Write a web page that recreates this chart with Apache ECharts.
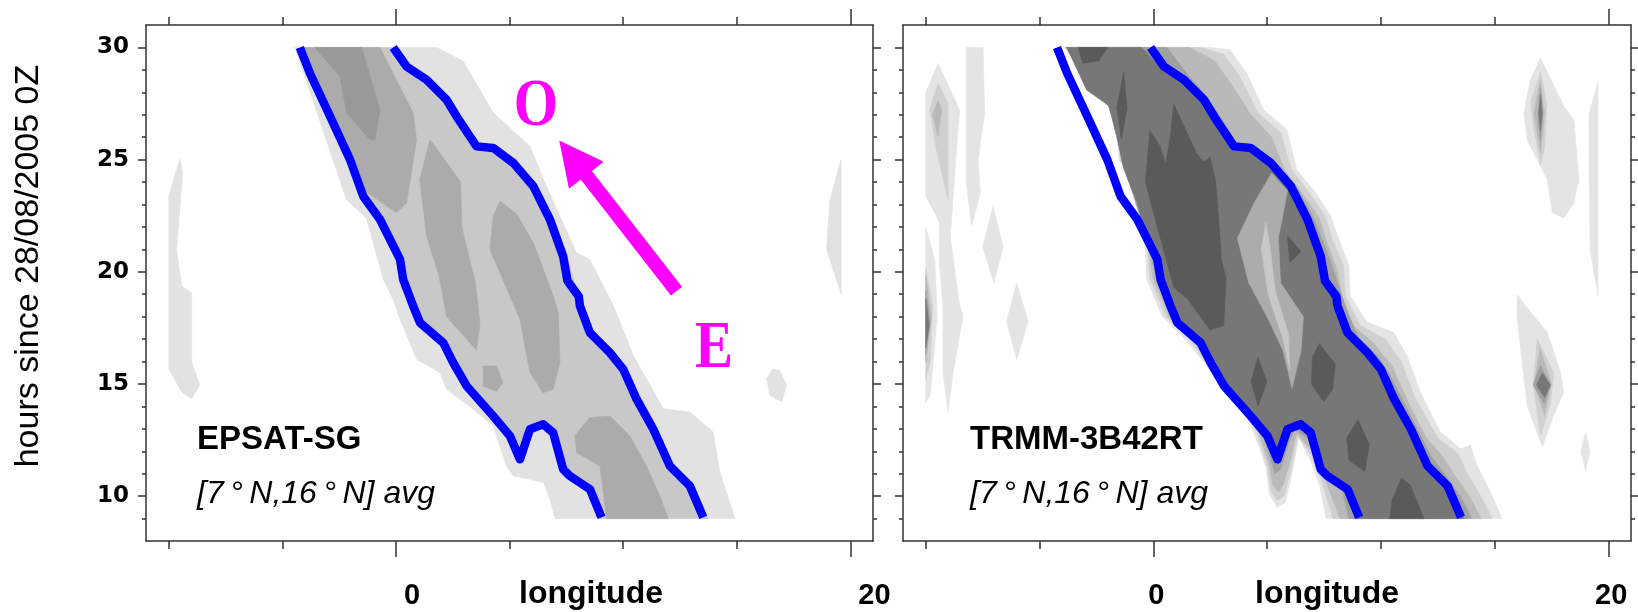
<!DOCTYPE html>
<html>
<head>
<meta charset="utf-8">
<title>Hovmoller EPSAT-SG / TRMM-3B42RT</title>
<script src="https://cdn.jsdelivr.net/npm/echarts@6/dist/echarts.min.js"></script>
<style>
  html, body { margin: 0; padding: 0; background: #ffffff; }
  #chart { width: 1638px; height: 612px; }
</style>
</head>
<body>
<div id="chart"></div>
<script>
// axes
const lonMin = -11, lonMax = 21;
const hourMin = 8, hourMax = 31;
const lonTicks = [-10, -5, 0, 5, 10, 15, 20];
const lonMajor = [0, 20];
const lonLabels = [0, 20];
const hourTicks = [9, 10, 11, 12, 13, 14, 15, 16, 17, 18, 19, 20, 21, 22, 23, 24, 25, 26, 27, 28, 29, 30];
const hourLabels = [10, 15, 20, 25, 30];

// blue contours [lon, hour] (same on both panels)
const blueWest = [[-4.23, 30], [-3.79, 28.86], [-2.90, 26.93], [-2.02, 25.0], [-1.44, 23.37], [-0.70, 22.33], [0.18, 20.55], [0.32, 19.66], [0.76, 18.47], [1.06, 17.73], [2.08, 16.84], [2.52, 15.95], [3.11, 14.91], [4.28, 13.57], [5.02, 12.68], [5.46, 11.64], [5.90, 12.98], [6.48, 13.20], [6.92, 12.83], [7.36, 11.20], [7.66, 10.90], [8.54, 10.31], [9.05, 9.05]];
const blueEast = [[-0.12, 30], [0.47, 29.15], [1.35, 28.56], [2.23, 27.67], [2.67, 26.93], [3.55, 25.59], [4.28, 25.52], [5.17, 24.85], [6.05, 23.81], [6.78, 22.33], [7.36, 20.69], [7.55, 19.6], [8.05, 18.9], [8.10, 18.47], [8.54, 17.28], [9.42, 16.39], [10.01, 15.65], [10.60, 14.31], [11.33, 12.98], [12.06, 11.34], [12.94, 10.45], [13.53, 9.05]];

// EPSAT-SG shaded levels (light -> dark)
const epsatL1 = [
  [[-4.45, 30], [1.8, 30], [2.96, 29.4], [4.28, 27.1], [5.9, 25.6], [6.63, 23.8], [7.95, 20.85], [8.54, 20.55], [9.57, 18.5], [10.45, 16.27], [11.77, 13.9], [12.94, 13.75], [13.97, 12.86], [14.26, 11.08], [14.92, 9.0], [7.0, 9.0], [6.78, 9.86], [6.5, 10.6], [5.9, 10.75], [5.17, 10.9], [4.87, 11.34], [4.28, 13.13], [3.4, 13.87], [2.23, 14.76], [1.94, 15.5], [0.91, 16.1], [0.18, 17.88], [-0.12, 18.77], [-0.56, 19.66], [-1.3, 22.4], [-2.17, 23.2]],
  [[-9.51, 25.07], [-9.39, 24.4], [-9.65, 20.99], [-9.43, 19.36], [-8.99, 19.06], [-8.99, 15.97], [-8.63, 14.94], [-8.99, 14.35], [-9.43, 14.64], [-10.0, 15.68], [-10.0, 18.77], [-10.0, 23.37]],
  [[19.6, 25.0], [19.6, 19.0], [18.95, 21.0], [19.1, 23.2]],
  [[16.6, 15.68], [16.9, 15.6], [17.2, 14.94], [16.98, 14.2], [16.46, 14.49], [16.32, 15.24]]
];
const epsatL2 = [
  [[-4.1, 30], [0.1, 30], [0.6, 29.15], [1.45, 28.5], [2.35, 27.6], [2.8, 26.9], [3.65, 25.55], [4.35, 25.45], [5.3, 24.8], [6.2, 23.8], [6.95, 22.3], [7.55, 20.7], [7.85, 19.5], [8.25, 18.5], [8.7, 17.3], [9.6, 16.4], [10.2, 15.6], [10.8, 14.3], [11.5, 13.0], [12.25, 11.3], [13.1, 10.4], [13.75, 9.0], [9.0, 9.0], [8.54, 10.31], [7.66, 10.9], [7.36, 11.2], [6.92, 12.83], [6.48, 13.2], [5.9, 12.98], [5.46, 11.64], [5.02, 12.68], [4.28, 13.57], [3.11, 14.91], [2.52, 15.95], [2.08, 16.84], [1.06, 17.73], [0.76, 18.47], [0.32, 19.66], [0.18, 20.55], [-0.7, 22.33], [-1.44, 23.37], [-2.02, 25.0], [-2.9, 26.93], [-3.79, 28.86]]
];
const epsatL3 = [
  [[-4.1, 30], [-0.7, 30], [0.76, 27.08], [0.91, 25.89], [0.47, 23.07], [0.03, 22.63], [-1.44, 23.66], [-2.9, 26.93], [-3.79, 28.86]],
  [[1.5, 25.9], [2.85, 24.0], [2.9, 22.0], [3.5, 19.5], [3.7, 17.7], [3.55, 16.5], [2.23, 18.0], [1.9, 19.8], [1.35, 21.6], [1.05, 24.1]],
  [[3.84, 15.8], [4.43, 15.8], [4.72, 15.06], [4.43, 14.68], [3.84, 14.9]],
  [[4.58, 23.14], [5.3, 22.6], [6.05, 21.29], [6.9, 19.0], [7.15, 18.17], [7.22, 15.95], [6.92, 14.76], [6.48, 14.61], [5.9, 15.5], [5.46, 17.88], [4.9, 19.2], [4.14, 20.99], [4.28, 22.48]],
  [[8.1, 12.98], [8.54, 13.5], [9.42, 13.57], [10.3, 12.68], [11.03, 11.34], [11.62, 10.0], [11.99, 9.0], [9.27, 9.0], [8.98, 11.34], [7.95, 11.94], [7.88, 12.68]]
];
const epsatL4 = [
  [[-3.57, 30], [-1.51, 30], [-0.7, 27.23], [-0.92, 25.89], [-1.14, 25.89], [-2.17, 27.08], [-2.46, 28.71]]
];

// TRMM-3B42RT shaded levels (light -> dark)
const trmmL1 = [
  [[-3.9, 30], [-3.25, 29], [-2.6, 28.2], [-1.7, 27.1], [-1.5, 25.0], [-1.1, 24.3], [-0.8, 23.1], [-0.5, 22.0], [-0.35, 21.0], [-0.3, 19.7], [0.4, 18.0], [1.4, 17.0], [2.2, 16.0], [2.6, 15.5], [3.3, 14.5], [4.2, 13.4], [4.65, 12.2], [4.95, 11.3], [5.1, 10.1], [5.45, 9.5], [5.8, 9.7], [6.1, 11.0], [6.4, 12.6], [6.9, 11.6], [7.3, 10.5], [7.6, 9.0], [15.33, 9.0], [14.82, 10.19], [14.23, 11.38], [13.94, 12.27], [13.5, 12.12], [12.62, 12.86], [11.74, 14.64], [11.15, 16.27], [10.56, 17.31], [9.39, 17.76], [8.66, 18.91], [8.6, 20.3], [8.1, 21.6], [7.8, 22.5], [7.04, 23.66], [6.31, 24.55], [5.87, 26.34], [4.84, 27.23], [4.11, 28.86], [3.38, 29.9], [2.5, 30]],
  [[-9.46, 29.3], [-8.51, 27.2], [-8.65, 25.44], [-8.95, 21.14], [-9.53, 22.48], [-10.0, 23.37], [-10.0, 27.97]],
  [[-9.39, 22.48], [-8.95, 21.74], [-8.51, 18.5], [-8.36, 18.05], [-8.8, 15.5], [-9.02, 13.75], [-9.24, 15.53], [-9.24, 18.5], [-9.39, 20.25]],
  [[-10.0, 22.0], [-9.6, 20.5], [-9.5, 18.0], [-9.8, 14.5], [-10.0, 14.2]],
  [[-8.21, 30], [-7.48, 30], [-7.41, 27.08], [-7.7, 25.0], [-7.6, 23.5], [-7.99, 22.03], [-8.21, 23.96]],
  [[-7.04, 22.9], [-6.6, 21.1], [-7.0, 19.5], [-7.5, 21.1]],
  [[-6.0, 19.5], [-5.5, 17.8], [-6.0, 16.1], [-6.45, 17.8]],
  [[17.02, 29.53], [18.05, 27.37], [18.49, 26.78], [18.71, 24.11], [18.49, 23.07], [18.05, 22.4], [17.54, 22.63], [17.32, 24.11], [16.43, 25.89], [16.29, 27.08], [16.58, 28.56]],
  [[19.55, 28.5], [19.55, 18.9], [19.2, 21.0], [19.15, 27.0]],
  [[16.0, 19.0], [16.35, 18.5], [17.32, 17.31], [17.9, 15.53], [18.05, 14.64], [17.6, 13.6], [17.1, 12.19], [16.43, 14.05], [16.0, 17.91]],
  [[19.0, 12.85], [19.2, 12.0], [19.0, 11.1], [18.8, 12.0]]
];
const trmmL2 = [
  [[-3.85, 30], [-3.15, 29], [-2.45, 28.0], [-1.65, 27.0], [-1.45, 25.0], [-1.05, 24.2], [-0.75, 23.0], [-0.45, 22.0], [-0.25, 21.0], [-0.15, 19.7], [0.55, 18.0], [1.6, 17.0], [2.3, 16.0], [2.7, 15.5], [3.45, 14.5], [4.35, 13.4], [4.75, 12.2], [5.02, 11.3], [5.18, 10.2], [5.45, 9.8], [5.75, 10.0], [6.05, 11.2], [6.35, 12.7], [6.95, 11.8], [7.4, 10.7], [7.9, 9.0], [14.9, 9.0], [14.4, 10], [13.8, 11], [13.4, 11.9], [12.5, 12.6], [11.5, 14.4], [10.9, 16.0], [10.2, 17.0], [9.1, 17.6], [8.45, 18.9], [8.35, 20.3], [7.85, 21.5], [7.55, 22.5], [6.8, 23.6], [6.05, 24.6], [5.6, 26.2], [4.6, 27.1], [3.8, 28.7], [3.1, 29.7], [2.1, 30]],
  [[-9.46, 28.41], [-9.02, 27.52], [-9.02, 23.22], [-9.53, 25.44], [-9.83, 27.23]],
  [[17.02, 28.9], [17.3, 27.5], [17.2, 25.5], [17.02, 24.8], [16.7, 26.5], [16.6, 27.6]],
  [[16.88, 17.0], [17.6, 15.5], [17.46, 14.1], [17.02, 12.7], [16.7, 15.0]],
  [[-10.0, 20.2], [-9.7, 18.5], [-9.8, 16.0], [-10.0, 15.2]]
];
const trmmL3 = [
  [[-3.82, 30], [-3.05, 28.8], [-2.3, 27.8], [-1.62, 26.9], [-1.4, 25.0], [-1.0, 24.0], [-0.7, 22.9], [-0.4, 21.9], [-0.18, 20.9], [0.0, 19.7], [0.7, 18.0], [1.8, 16.9], [2.45, 16.0], [2.8, 15.5], [3.6, 14.5], [4.5, 13.3], [4.85, 12.2], [5.1, 11.4], [5.25, 10.5], [5.5, 10.2], [5.7, 10.5], [6.0, 11.5], [6.3, 12.8], [7.0, 12.0], [7.5, 10.9], [8.2, 9.0], [14.4, 9.0], [13.9, 10], [13.2, 11], [12.7, 11.8], [12.0, 12.6], [11.2, 14.2], [10.5, 15.8], [9.7, 16.8], [8.8, 17.6], [8.3, 18.9], [8.05, 20.2], [7.6, 21.4], [7.3, 22.4], [6.55, 23.5], [5.8, 24.5], [5.2, 26.0], [4.3, 27.0], [3.4, 28.4], [2.7, 29.4], [1.6, 30]],
  [[-9.46, 27.67], [-9.3, 27.2], [-9.46, 26.04], [-9.7, 27.0]],
  [[17.02, 28.56], [17.2, 27.0], [17.02, 25.3], [16.73, 27.08]],
  [[17.0, 16.6], [17.5, 15.0], [17.2, 13.6], [16.75, 15.0]],
  [[-10.0, 19.8], [-9.75, 18.0], [-10.0, 16.0]]
];
const trmmL4 = [
  [[-3.8, 30], [-2.95, 28.4], [-2.0, 27.5], [-1.62, 26.3], [-1.35, 24.8], [-0.9, 23.5], [-0.4, 22.0], [-0.12, 20.9], [0.15, 19.7], [0.8, 18.0], [1.95, 16.8], [2.6, 15.7], [3.0, 15.0], [4.0, 13.9], [4.7, 13.0], [5.0, 12.2], [5.2, 11.5], [5.35, 11.0], [5.6, 11.2], [5.9, 12.2], [6.2, 13.0], [7.0, 12.4], [7.5, 11.0], [8.3, 10.3], [8.6, 9.0], [14.0, 9.0], [13.5, 10], [12.8, 11], [12.2, 11.8], [11.7, 12.8], [11.0, 14.2], [10.4, 15.4], [9.9, 16.2], [9.0, 17.1], [8.5, 18.3], [8.2, 19.2], [7.75, 20.6], [7.1, 22.3], [6.3, 23.8], [5.45, 24.8], [4.5, 25.6], [3.7, 25.7], [2.9, 27.0], [2.2, 28.0], [1.5, 28.8], [0.6, 30]],
  [[17.02, 28.2], [17.12, 27.0], [17.02, 25.8], [16.9, 27.0]],
  [[17.02, 15.83], [17.46, 14.95], [17.2, 14.1], [16.7, 14.95]],
  [[-10.0, 19.2], [-9.8, 17.8], [-10.0, 16.3]]
];
const trmmL5 = [
  [[-3.8, 30], [-2.93, 28.1], [-1.95, 27.4], [-1.58, 25.9], [-1.28, 24.55], [-0.7, 23.07], [-0.25, 21.3], [0.3, 19.7], [0.9, 18.0], [2.05, 16.75], [2.6, 15.8], [3.15, 14.8], [4.3, 13.5], [5.0, 12.6], [5.35, 11.8], [5.6, 12.2], [5.95, 13.0], [6.5, 13.3], [6.95, 12.8], [7.4, 11.2], [7.7, 10.85], [8.55, 10.3], [8.95, 9.0], [13.65, 9.0], [13.05, 10.45], [12.15, 11.35], [11.45, 12.98], [10.7, 14.3], [10.1, 15.65], [9.5, 16.4], [8.65, 17.3], [8.2, 18.5], [7.65, 19.6], [7.45, 20.7], [6.9, 22.3], [6.15, 23.8], [5.25, 24.85], [4.3, 25.45], [3.55, 25.5], [2.7, 26.9], [2.2, 27.6], [1.3, 28.5], [0.4, 29.0], [-0.5, 30]],
  [[17.02, 27.9], [17.1, 27.1], [17.02, 26.3], [16.95, 27.1]],
  [[17.1, 15.5], [17.46, 14.95], [17.2, 14.4], [16.85, 14.95]],
  [[-10.0, 18.8], [-9.85, 17.6], [-10.0, 16.6]]
];
const trmmStreak = [
  [[5.2, 24.4], [5.9, 23.6], [5.5, 21.5], [5.6, 19.5], [6.6, 18.0], [6.5, 16.5], [6.1, 14.8], [5.7, 16.5], [5.0, 18.0], [4.2, 19.5], [3.7, 21.5], [4.4, 23.0]]
];
const trmmStreakCore = [
  [[4.95, 22.2], [5.15, 21.0], [5.35, 19.2], [5.95, 17.2], [6.0, 15.6], [5.7, 17.0], [5.05, 19.0], [4.75, 21.0]]
];
const trmmL6 = [
  [[-3.3, 30], [-2.0, 30], [-2.4, 29.4], [-3.1, 29.3]],
  [[-1.3, 28.9], [-1.15, 27.3], [-1.4, 25.9], [-1.6, 27.3]],
  [[0.9, 27.5], [1.3, 26.6], [1.9, 25.3], [2.2, 24.9], [2.5, 25.1], [2.75, 24.0], [2.9, 22.0], [3.0, 20.5], [3.2, 19.7], [3.1, 17.6], [2.5, 17.4], [1.5, 18.8], [0.9, 19.3], [0.5, 20.8], [0.1, 22.3], [-0.35, 24.0], [-0.15, 26.3], [0.3, 25.6], [0.55, 24.8], [0.75, 26.0]],
  [[5.9, 21.6], [6.5, 20.9], [6.0, 20.4]],
  [[7.3, 16.8], [8.0, 15.9], [7.9, 14.8], [7.5, 14.2], [6.95, 15.0], [7.0, 16.2]],
  [[4.6, 16.2], [5.0, 15.1], [4.6, 14.0], [4.3, 15.1]],
  [[9.0, 13.4], [9.5, 12.3], [9.3, 11.1], [8.6, 11.6], [8.5, 12.6]],
  [[10.9, 10.8], [11.3, 10.5], [11.9, 9.0], [10.4, 9.0], [10.5, 9.8]]
];

// propagation arrow, tail -> tip, [lon, hour]
const arrowEnds = [[12.35, 19.14], [7.19, 25.85]];

const axisColor = '#333333';
const tickStyle = { color: axisColor, width: 1.5 };

function xAxesFor(gi, labelAlign, labelPad) {
  const base = { gridIndex: gi, type: 'value', min: lonMin, max: lonMax, splitLine: { show: false } };
  return [
    Object.assign({}, base, {
      position: 'bottom',
      axisLine: { show: true, onZero: false, lineStyle: tickStyle },
      axisTick: { show: true, length: 8, customValues: lonTicks, lineStyle: tickStyle },
      axisLabel: {
        show: true, customValues: lonLabels, margin: 40, align: labelAlign, padding: [0, 0, 0, labelPad],
        fontFamily: 'Liberation Sans', fontWeight: 'bold', fontSize: 29, lineHeight: 29, color: '#000'
      }
    }),
    Object.assign({}, base, {
      position: 'bottom', axisLine: { show: false, onZero: false },
      axisTick: { show: true, length: 16, customValues: lonMajor, lineStyle: tickStyle },
      axisLabel: { show: false }
    }),
    Object.assign({}, base, {
      position: 'top',
      axisLine: { show: true, onZero: false, lineStyle: tickStyle },
      axisTick: { show: true, length: 8, customValues: lonTicks, lineStyle: tickStyle },
      axisLabel: { show: false }
    }),
    Object.assign({}, base, {
      position: 'top', axisLine: { show: false, onZero: false },
      axisTick: { show: true, length: 16, customValues: lonMajor, lineStyle: tickStyle },
      axisLabel: { show: false }
    })
  ];
}

function yAxesFor(gi, showLabels) {
  const base = { gridIndex: gi, type: 'value', min: hourMin, max: hourMax, splitLine: { show: false } };
  return [
    Object.assign({}, base, {
      position: 'left',
      axisLine: { show: true, onZero: false, lineStyle: tickStyle },
      axisTick: { show: true, length: 4, customValues: hourTicks, lineStyle: tickStyle },
      axisLabel: {
        show: showLabels, customValues: hourLabels, margin: 17,
        fontFamily: 'DejaVu Sans', fontWeight: 'bold', fontSize: 23, color: '#000'
      }
    }),
    Object.assign({}, base, {
      position: 'left', axisLine: { show: false, onZero: false },
      axisTick: { show: true, length: 8, customValues: hourLabels, lineStyle: tickStyle },
      axisLabel: { show: false }
    }),
    Object.assign({}, base, {
      position: 'right',
      axisLine: { show: true, onZero: false, lineStyle: tickStyle },
      axisTick: { show: true, length: 4, customValues: hourTicks, lineStyle: tickStyle },
      axisLabel: { show: false }
    }),
    Object.assign({}, base, {
      position: 'right', axisLine: { show: false, onZero: false },
      axisTick: { show: true, length: 8, customValues: hourLabels, lineStyle: tickStyle },
      axisLabel: { show: false }
    })
  ];
}

// filled contour level: one polygon per data item
function shade(polys, color, gi) {
  return {
    type: 'custom',
    xAxisIndex: gi * 4,
    yAxisIndex: gi * 4,
    silent: true,
    data: polys.map(p => p[0]),
    renderItem: function (params, api) {
      const pts = polys[params.dataIndex].map(pt => api.coord(pt));
      return {
        type: 'polygon',
        shape: { points: pts },
        style: { fill: color, stroke: color, lineWidth: 0.6 }
      };
    }
  };
}

function blueLine(data, gi) {
  return {
    type: 'line',
    xAxisIndex: gi * 4,
    yAxisIndex: gi * 4,
    data: data,
    showSymbol: false,
    symbol: 'none',
    silent: true,
    lineStyle: { color: '#0000ff', width: 8.5, join: 'round', cap: 'butt' }
  };
}

const arrowSeries = {
  type: 'custom',
  xAxisIndex: 0,
  yAxisIndex: 0,
  silent: true,
  data: [arrowEnds[0]],
  renderItem: function (params, api) {
    const a = api.coord(arrowEnds[0]);
    const b = api.coord(arrowEnds[1]);
    const dx = b[0] - a[0], dy = b[1] - a[1];
    const len = Math.sqrt(dx * dx + dy * dy);
    const ux = dx / len, uy = dy / len;
    const nx = -uy, ny = ux;
    const shaft = 7, head = 22, headLen = 44;
    const bx = b[0] - ux * headLen, by = b[1] - uy * headLen;
    return {
      type: 'polygon',
      shape: {
        points: [
          [a[0] + nx * shaft, a[1] + ny * shaft],
          [bx + nx * shaft, by + ny * shaft],
          [bx + nx * head, by + ny * head],
          [b[0], b[1]],
          [bx - nx * head, by - ny * head],
          [bx - nx * shaft, by - ny * shaft],
          [a[0] - nx * shaft, a[1] - ny * shaft]
        ]
      },
      style: { fill: '#ff00ff' }
    };
  }
};

const chart = echarts.init(document.getElementById('chart'), null, { renderer: 'canvas' });

const option = {
  animation: false,
  backgroundColor: '#ffffff',
  grid: [
    { left: 146, top: 25, width: 727, height: 516 },
    { left: 903, top: 25, width: 728, height: 516 }
  ],
  xAxis: xAxesFor(0, 'left', 8).concat(xAxesFor(1, 'center', 6)),
  yAxis: yAxesFor(0, true).concat(yAxesFor(1, false)),
  series: [
    shade(epsatL1, '#e2e2e2', 0),
    shade(epsatL2, '#c8c8c8', 0),
    shade(epsatL3, '#ababab', 0),
    shade(epsatL4, '#999999', 0),
    shade(trmmL1, '#e4e4e4', 1),
    shade(trmmL2, '#d0d0d0', 1),
    shade(trmmL3, '#b9b9b9', 1),
    shade(trmmL4, '#a0a0a0', 1),
    shade(trmmL5, '#777777', 1),
    shade(trmmStreak, '#acacac', 1),
    shade(trmmStreakCore, '#c8c8c8', 1),
    shade(trmmL6, '#5a5a5a', 1),
    blueLine(blueWest, 0),
    blueLine(blueEast, 0),
    blueLine(blueWest, 1),
    blueLine(blueEast, 1),
    arrowSeries
  ],
  graphic: [
    {
      type: 'text', x: 28.5, y: 266, rotation: Math.PI / 2,
      style: { text: 'hours since 28/08/2005 0Z', fontFamily: 'Liberation Sans', fontSize: 34, fill: '#000', align: 'center', verticalAlign: 'middle' }
    },
    {
      type: 'text', x: 591, y: 594,
      style: { text: 'longitude', fontFamily: 'Liberation Sans', fontWeight: 'bold', fontSize: 32, fill: '#000', align: 'center', verticalAlign: 'middle' }
    },
    {
      type: 'text', x: 1327, y: 594,
      style: { text: 'longitude', fontFamily: 'Liberation Sans', fontWeight: 'bold', fontSize: 32, fill: '#000', align: 'center', verticalAlign: 'middle' }
    },
    {
      type: 'text', x: 197, y: 440,
      style: { text: 'EPSAT-SG', fontFamily: 'Liberation Sans', fontWeight: 'bold', fontSize: 33, fill: '#000', align: 'left', verticalAlign: 'middle' }
    },
    {
      type: 'text', x: 197, y: 494,
      style: { text: '[7\u2009°\u2009N,16\u2009°\u2009N] avg', fontFamily: 'Liberation Sans', fontStyle: 'italic', fontSize: 32, fill: '#000', align: 'left', verticalAlign: 'middle' }
    },
    {
      type: 'text', x: 970, y: 440,
      style: { text: 'TRMM-3B42RT', fontFamily: 'Liberation Sans', fontWeight: 'bold', fontSize: 33, fill: '#000', align: 'left', verticalAlign: 'middle' }
    },
    {
      type: 'text', x: 970, y: 494,
      style: { text: '[7\u2009°\u2009N,16\u2009°\u2009N] avg', fontFamily: 'Liberation Sans', fontStyle: 'italic', fontSize: 32, fill: '#000', align: 'left', verticalAlign: 'middle' }
    },
    {
      type: 'text', x: 536, y: 107, scaleX: 0.84,
      style: { text: 'O', fontFamily: 'Liberation Serif', fontWeight: 'bold', fontSize: 68, fill: '#ff00ff', align: 'center', verticalAlign: 'middle' }
    },
    {
      type: 'text', x: 714, y: 349, scaleX: 0.84,
      style: { text: 'E', fontFamily: 'Liberation Serif', fontWeight: 'bold', fontSize: 68, fill: '#ff00ff', align: 'center', verticalAlign: 'middle' }
    }
  ]
};

chart.setOption(option);
window.addEventListener('resize', () => {
  chart.resize();
});
</script>
</body>
</html>
